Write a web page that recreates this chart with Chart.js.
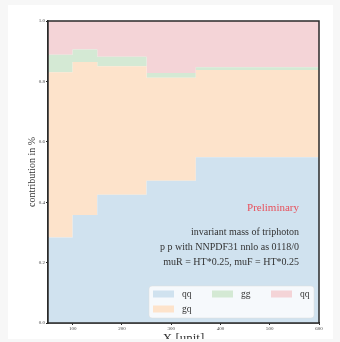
<!DOCTYPE html>
<html>
<head>
<meta charset="utf-8">
<script src="https://cdn.jsdelivr.net/npm/chart.js@4/dist/chart.umd.min.js"></script>
<style>
  html, body { margin: 0; padding: 0; background: #f7f7f7; width: 340px; height: 342px; overflow: hidden; }
  #card { position: absolute; left: 8px; top: 5px; width: 325px; height: 334px; background: #fff; overflow: hidden; }
  #c { position: absolute; left: 0; top: 0; }
</style>
</head>
<body>
<div id="card"><canvas id="c" width="325" height="345"></canvas></div>
<script>
// Bin edges of the invariant-mass histogram
const binEdges = [50, 100, 150, 250, 350, 600];
// Fractional contribution of each channel per bin (stack sums to 1)
const fracQQ  = [0.283, 0.358, 0.425, 0.471, 0.549];
const fracGQ  = [0.547, 0.506, 0.425, 0.341, 0.289];
const fracGG  = [0.058, 0.042, 0.032, 0.016, 0.009];
const fracQQb = [0.112, 0.094, 0.118, 0.172, 0.153];
const channelLabels = ['qq', 'gq', 'gg', 'qq'];
const channelColors = ['#d0e2ef', '#fde3cb', '#d4e9d4', '#f4d4d7'];
const xTicks = [100, 200, 300, 400, 500, 600];
const yTicks = [0.0, 0.2, 0.4, 0.6, 0.8, 1.0];
const infoLines = ['invariant mass of triphoton', 'p p with NNPDF31 nnlo as 0118/0', 'muR = HT*0.25, muF = HT*0.25'];

const SERIF = '"Liberation Serif", "DejaVu Serif", serif';

// one step point per left bin edge, plus the closing edge carrying the last value
function steps(vals) {
  return binEdges.map((e, i) => ({ x: e, y: vals[Math.min(i, vals.length - 1)] }));
}

const series = [fracQQ, fracGQ, fracGG, fracQQb];
const datasets = series.map((vals, i) => ({
  label: channelLabels[i],
  data: steps(vals),
  stepped: 'before',
  fill: i === 0 ? 'origin' : '-1',
  backgroundColor: channelColors[i],
  borderColor: 'rgba(0,0,0,0)',
  borderWidth: 0,
  pointRadius: 0,
  pointHoverRadius: 0
}));

// frame, annotation block and legend
const overlay = {
  id: 'overlay',
  afterDatasetsDraw(chart) {
    const ctx = chart.ctx;
    const a = chart.chartArea;
    ctx.save();

    // annotation text, right aligned
    ctx.textAlign = 'right';
    ctx.textBaseline = 'middle';
    ctx.fillStyle = '#e8505b';
    ctx.font = '11px ' + SERIF;
    ctx.fillText('Preliminary', a.right - 20, a.bottom - 114.5);
    ctx.fillStyle = '#333';
    ctx.font = '10px ' + SERIF;
    const offs = [90.7, 75.7, 60.7];
    infoLines.forEach((t, i) => ctx.fillText(t, a.right - 20, a.bottom - offs[i]));

    // legend box
    const bw = 165, bh = 32;
    const bx = a.right - 5 - bw, by = a.bottom - 5 - bh;
    ctx.beginPath();
    ctx.roundRect(bx, by, bw, bh, 3);
    ctx.fillStyle = 'rgba(255,255,255,0.8)';
    ctx.fill();
    ctx.strokeStyle = 'rgba(220,220,220,0.6)';
    ctx.lineWidth = 0.8;
    ctx.stroke();

    // column-major placement: 3 columns, 2 rows
    const colX = [4, 63, 122];
    const rowY = [8, 23];
    ctx.textAlign = 'left';
    ctx.font = '9.5px ' + SERIF;
    chart.data.datasets.forEach((ds, i) => {
      const col = i < 2 ? 0 : i - 1;
      const row = i < 2 ? i : 0;
      const hx = bx + colX[col], hy = by + rowY[row];
      ctx.fillStyle = ds.backgroundColor;
      ctx.fillRect(hx, hy - 3.5, 21, 7);
      ctx.fillStyle = '#333';
      ctx.fillText(ds.label, hx + 29, hy);
    });

    // axes frame
    ctx.strokeStyle = '#2a2a2a';
    ctx.lineWidth = 1.5;
    ctx.strokeRect(a.left, a.top, a.right - a.left, a.bottom - a.top);
    ctx.restore();
  }
};

new Chart(document.getElementById('c'), {
  type: 'line',
  data: { datasets },
  options: {
    responsive: false,
    animation: false,
    events: [],
    layout: { padding: { left: 0, right: 14, top: 16, bottom: 0 } },
    plugins: { legend: { display: false }, tooltip: { enabled: false } },
    scales: {
      x: {
        type: 'linear',
        min: 50,
        max: 600,
        afterBuildTicks(scale) { scale.ticks = xTicks.map(v => ({ value: v })); },
        afterFit(scale) { scale.height = 27; },
        ticks: { font: { size: 5, family: SERIF }, color: '#444', padding: 1, maxRotation: 0 },
        grid: { drawOnChartArea: false, tickLength: 2, color: '#222' },
        border: { display: true, color: '#2a2a2a', width: 1.5 },
        title: { display: true, text: 'X [unit]', font: { size: 13, family: SERIF }, color: '#333', padding: { top: 0, bottom: 4 } }
      },
      y: {
        type: 'linear',
        stacked: true,
        min: 0,
        max: 1,
        afterBuildTicks(scale) { scale.ticks = yTicks.map(v => ({ value: v })); },
        afterFit(scale) { scale.width = 40; },
        ticks: { font: { size: 5, family: SERIF }, color: '#444', padding: 1, callback: v => v.toFixed(1) },
        grid: { drawOnChartArea: false, tickLength: 2, color: '#222' },
        border: { display: true, color: '#2a2a2a', width: 1.5 },
        title: { display: true, text: 'contribution in %', font: { size: 10, family: SERIF }, color: '#333', padding: { top: 18, bottom: 0 } }
      }
    }
  },
  plugins: [overlay]
});
</script>
</body>
</html>
